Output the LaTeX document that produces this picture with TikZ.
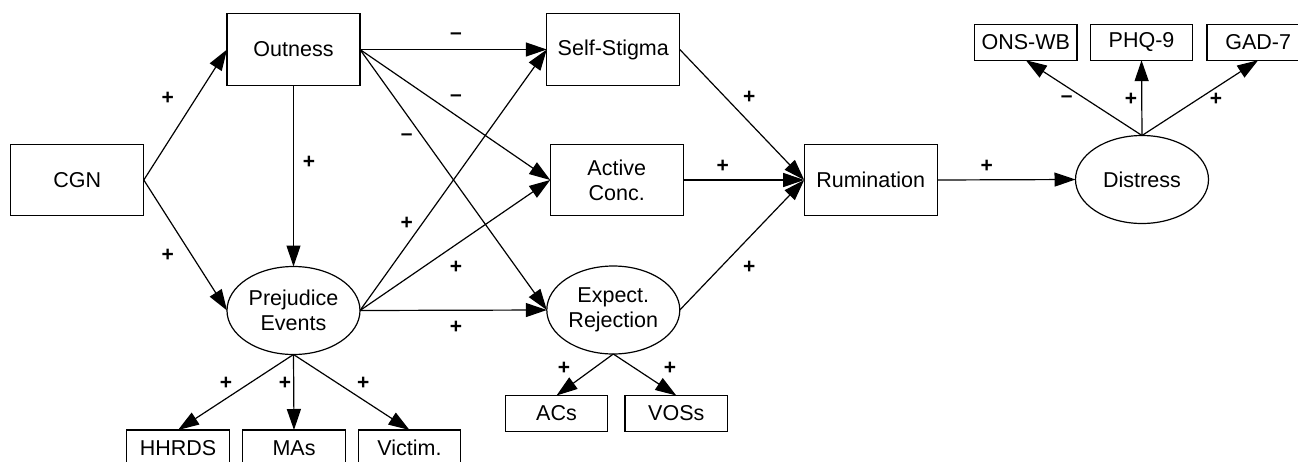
\documentclass[tikz,border=0pt]{standalone}
\usepackage{fontspec}
\setmainfont{Liberation Sans}
\usetikzlibrary{arrows.meta,shapes.geometric}
\begin{document}
\begin{tikzpicture}[x=1pt,y=-1pt,
  every node/.style={outer sep=0pt, inner sep=0pt, font=\fontsize{21.5}{25}\selectfont, align=center},
  bigbox/.style={draw, rectangle, line width=1.2pt, minimum width=133pt, minimum height=71.5pt},
  latent/.style={draw, ellipse, line width=1.2pt, minimum width=133pt, minimum height=88pt},
  indbox/.style={draw, rectangle, line width=1.2pt, minimum width=102.5pt, minimum height=36pt},
  sgn/.style={font=\fontsize{21}{21}\selectfont\bfseries},
  path/.style={draw, line width=1.2pt, -{Triangle[length=21pt,width=14pt]}}
]
\useasboundingbox (0,0) rectangle (1298,461);

% main nodes
\node[bigbox] (cgn) at (77.3,180) {CGN};
\node[bigbox] (out) at (293.5,49.5) {Outness};
\node[latent] (prej) at (293.5,310.5) {Prejudice\\Events};
\node[bigbox] (ss) at (613.3,49.5) {Self-Stigma};
\node[bigbox] (ac) at (616.7,180) {Active\\Conc.};
\node[latent] (er) at (613.3,310) {Expect.\\Rejection};
\node[bigbox] (rum) at (870.7,180) {Rumination};
\node[latent] (dis) at (1142,179.5) {Distress};

% indicators
\node[indbox] (hh) at (178,448) {HHRDS};
\node[indbox] (ma) at (294,448) {MAs};
\node[indbox] (vi) at (409.5,448) {Victim.};
\node[indbox] (acs) at (556.5,413.5) {ACs};
\node[indbox] (vos) at (676.3,413.5) {VOSs};
\node[indbox] (ons) at (1025.8,42.2) {ONS-WB};
\node[indbox] (phq) at (1141.5,42.2) {PHQ-9};
\node[indbox] (gad) at (1258.2,42.2) {GAD-7};

% structural paths
\path[path] (cgn.east) -- (out.west);
\path[path] (cgn.east) -- (prej.west);
\path[path] (out.south) -- (prej.north);
\path[path] (out.east) -- (ss.west);
\path[path] (out.east) -- (ac.west);
\path[path] (out.east) -- (er.west);
\path[path] (prej.east) -- (ss.west);
\path[path] (prej.east) -- (ac.west);
\path[path] (prej.east) -- (er.west);
\path[path] (ss.east) -- (rum.west);
\path[path] (ac.east) -- (rum.west);
\path[path] (er.east) -- (rum.west);
\path[path] (rum.east) -- (dis.west);

% measurement paths
\path[path] (dis.north) -- (ons.south);
\path[path] (dis.north) -- (phq.south);
\path[path] (dis.north) -- (gad.south);
\path[path] (prej.south) -- (hh.north);
\path[path] (prej.south) -- (ma.north);
\path[path] (prej.south) -- (vi.north);
\path[path] (er.south) -- (acs.north);
\path[path] (er.south) -- (vos.north);

% signs
\node[sgn] (s1) at (167.7,98.3) {+};
\node[sgn] (s2) at (167.7,255) {+};
\node[sgn] (s3) at (309,162.3) {+};
\node[sgn] (s4) at (456,35.7) {--};
\node[sgn] (s5) at (456,97.7) {--};
\node[sgn] (s6) at (406.7,136.7) {--};
\node[sgn] (s7) at (406.7,223.3) {+};
\node[sgn] (s8) at (456,267.7) {+};
\node[sgn] (s9) at (456,327.3) {+};
\node[sgn] (s10) at (749.3,97.7) {+};
\node[sgn] (s11) at (722.7,166.7) {+};
\node[sgn] (s12) at (749.3,267.7) {+};
\node[sgn] (s13) at (986.7,166.7) {+};
\node[sgn] (s14) at (1066.7,99.3) {--};
\node[sgn] (s15) at (1131,99.3) {+};
\node[sgn] (s16) at (1216,99.3) {+};
\node[sgn] (s17) at (226,383.3) {+};
\node[sgn] (s18) at (285,383.3) {+};
\node[sgn] (s19) at (363.3,383.3) {+};
\node[sgn] (s20) at (564,368.3) {+};
\node[sgn] (s21) at (670,368.3) {+};
\end{tikzpicture}
\end{document}
